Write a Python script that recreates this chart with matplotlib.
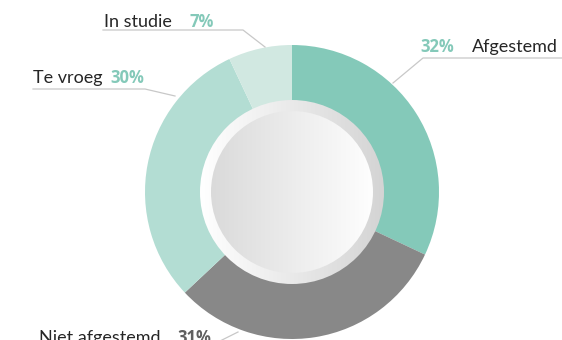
import numpy as np
import matplotlib
matplotlib.use("Agg")
import matplotlib.pyplot as plt
from matplotlib.patches import Circle
from matplotlib.colors import LinearSegmentedColormap

plt.rcParams['font.family'] = ['Lato', 'DejaVu Sans']

# status breakdown, clockwise from the top
labels = ["Afgestemd", "Niet afgestemd", "Te vroeg", "In studie"]
shares = [32, 31, 30, 7]
colors = ["#84c9b9", "#888888", "#b3ddd3", "#d1e8e1"]

W, H = 562, 340
fig = plt.figure(figsize=(W / 100, H / 100), dpi=100)
ax = fig.add_axes([0, 0, 1, 1])

cx, cy = 292, H - 192
R = 147

ax.pie(shares, colors=colors, startangle=90, counterclock=False,
       center=(cx, cy), radius=R, frame=True,
       wedgeprops=dict(linewidth=0))

def gradient_disc(r, c_left, c_right, z):
    cmap = LinearSegmentedColormap.from_list("g", [c_left, c_right])
    grad = np.linspace(0, 1, 256).reshape(1, -1)
    im = ax.imshow(grad, cmap=cmap, extent=(cx - r, cx + r, cy - r, cy + r),
                   aspect='auto', zorder=z, interpolation='bilinear')
    clip = Circle((cx, cy), r, transform=ax.transData)
    im.set_clip_path(clip)

# plate rim, then the inner face
gradient_disc(92, "#ffffff", "#d4d4d4", 3)
gradient_disc(81, "#dadada", "#fefefe", 4)

teal = "#84c9b9"
txt = "#262626"
line = "#c8c8c8"
fs = 13

def leader(pts):
    xs = [p[0] for p in pts]
    ys = [H - p[1] for p in pts]
    ax.plot(xs, ys, color=line, lw=0.9, zorder=2)

def label(x, y, s, **kw):
    opts = dict(fontsize=fs, color=txt, va='baseline')
    opts.update(kw)
    ax.text(x, H - y, s, **opts)

def pct(x, y, s, color=teal):
    label(x, y, s, color=color, weight='bold', fontsize=fs - 1,
          family=['Open Sans', 'DejaVu Sans'])

# In studie
leader([(103, 30), (243, 30), (265, 47)])
label(104, 27, "In studie")
pct(190, 27, "7%")

# Te vroeg
leader([(33, 89), (145, 89), (175, 96)])
label(33, 83, "Te vroeg")
pct(110, 83, "30%")

# Afgestemd
leader([(393, 83), (423, 58), (562, 58)])
pct(420, 52, "32%")
label(558, 52, "Afgestemd", ha='right')

# Niet afgestemd
leader([(220, 341), (238, 332)])
label(39, 343, "Niet afgestemd")
pct(177, 343, "31%", color="#606060")

ax.set_xlim(0, W)
ax.set_ylim(0, H)
ax.set_aspect('equal')
ax.axis('off')

fig.savefig("out.png", dpi=100)
